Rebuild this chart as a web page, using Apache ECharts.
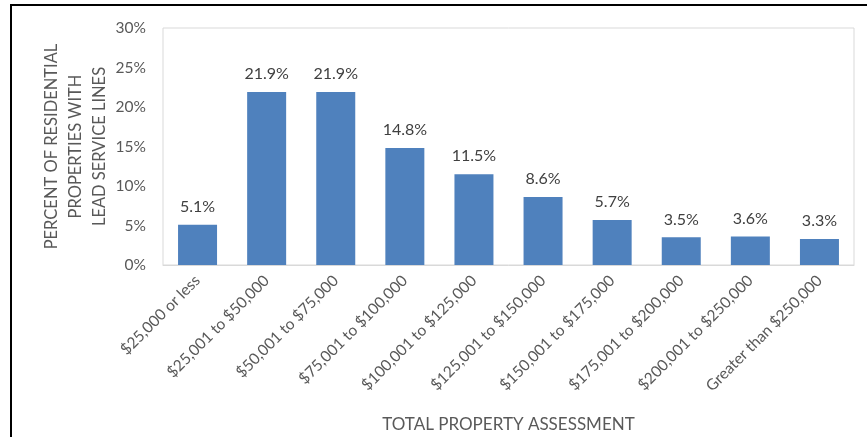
<!DOCTYPE html>
<html>
<head>
<meta charset="utf-8">
<script src="https://cdn.jsdelivr.net/npm/echarts@6/dist/echarts.min.js"></script>
<style>
  html, body { margin: 0; padding: 0; background: #fff; }
  #main { width: 867px; height: 437px; }
</style>
</head>
<body>
<div id="main"></div>
<script>
// 分类与数值
var categories = ['$25,000 or less', '$25,001 to $50,000', '$50,001 to $75,000', '$75,001 to $100,000',
    '$100,001 to $125,000', '$125,001 to $150,000', '$150,001 to $175,000', '$175,001 to $200,000',
    '$200,001 to $250,000', 'Greater than $250,000'];
var percents = [5.1, 21.9, 21.9, 14.8, 11.5, 8.6, 5.7, 3.5, 3.6, 3.3];

var myChart = echarts.init(document.getElementById('main'));
var font = 'Lato, "Liberation Sans", sans-serif';
var option = {
    animation: false,
    textStyle: { fontFamily: font },
    graphic: [{
        type: 'rect',
        shape: { x: 11, y: 5, width: 900, height: 500 },
        style: { fill: 'none', stroke: '#000', lineWidth: 2 }
    }],
    grid: {
        left: 163, top: 28, right: 13, bottom: 172,
        outerBoundsMode: 'none',
        containLabel: false,
        show: true, borderColor: '#d9d9d9', borderWidth: 1
    },
    xAxis: {
        type: 'category',
        data: categories,
        name: 'TOTAL PROPERTY ASSESSMENT',
        nameLocation: 'middle',
        nameGap: 151,
        nameMoveOverlap: false,
        nameTextStyle: { fontSize: 17, color: '#595959', fontFamily: font },
        axisLine: { lineStyle: { color: '#d9d9d9' } },
        axisTick: { show: false },
        axisLabel: { rotate: 45, fontSize: 15.5, color: '#595959', margin: 13, interval: 0 }
    },
    yAxis: {
        type: 'value',
        min: 0, max: 30, interval: 5,
        name: 'PERCENT OF RESIDENTIAL\nPROPERTIES WITH\nLEAD SERVICE LINES',
        nameLocation: 'middle',
        nameRotate: 90,
        nameGap: 51,
        nameMoveOverlap: false,
        nameTextStyle: { fontSize: 16.5, color: '#595959', lineHeight: 24, fontFamily: font },
        splitLine: { show: false },
        axisLine: { show: false },
        axisTick: { show: false },
        axisLabel: { formatter: '{value}%', fontSize: 15.5, color: '#595959', margin: 17 }
    },
    series: [{
        type: 'bar',
        data: percents,
        barWidth: 39,
        itemStyle: { color: '#4f81bd' },
        label: {
            show: true, position: 'top', distance: 10,
            fontSize: 16, color: '#404040',
            formatter: function (p) { return p.value.toFixed(1) + '%'; }
        }
    }]
};
myChart.setOption(option);
</script>
</body>
</html>
